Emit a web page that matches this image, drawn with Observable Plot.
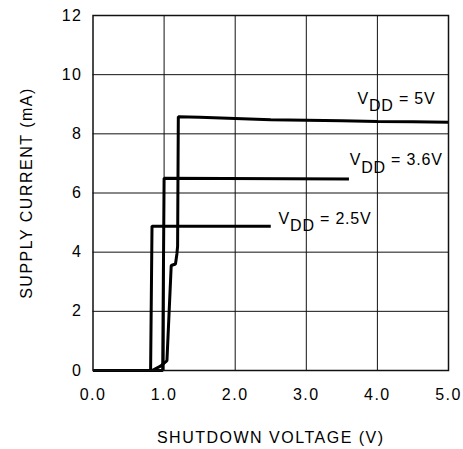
<!DOCTYPE html>
<html>
<head>
<meta charset="utf-8">
<script src="https://cdn.jsdelivr.net/npm/d3@7"></script>
<script src="https://cdn.jsdelivr.net/npm/@observablehq/plot@0.6"></script>
<style>
  html, body { margin: 0; padding: 0; background: #fff; }
</style>
</head>
<body>
<div id="chart"></div>
<script>
// ---- data ----
const xTicks = [0, 1, 2, 3, 4, 5];
const yTicks = [0, 2, 4, 6, 8, 10, 12];

const vdd25X = [0, 0.81, 0.83, 2.5];
const vdd25Y = [0, 0, 4.88, 4.88];

const vdd36X = [0, 0.98, 1.0, 3.6];
const vdd36Y = [0, 0, 6.5, 6.47];

const vdd5X = [0, 0.83, 0.95, 1.03, 1.04, 1.10, 1.16, 1.18, 1.19, 1.2, 1.5, 2.0, 2.5, 3.0, 3.5, 4.0, 4.5, 5.0];
const vdd5Y = [0, 0, 0.15, 0.31, 0.34, 3.55, 3.6, 3.94, 4.2, 8.58, 8.56, 8.52, 8.48, 8.46, 8.44, 8.42, 8.41, 8.39];

const labelMain = ["V", "V", "V"];
const labelSub = ["DD", "DD", "DD"];
const labelRest = [" = 5V", " = 3.6V", " = 2.5V"];
const labelX = [3.72, 3.61, 2.61];
const labelY = [9.01, 6.93, 4.96];

const xTitle = "SHUTDOWN VOLTAGE (V)";
const yTitle = "SUPPLY CURRENT (mA)";

// ---- build ----
const toPts = (xs, ys) => xs.map((x, i) => ({x, y: ys[i]}));
const series = [toPts(vdd25X, vdd25Y), toPts(vdd36X, vdd36Y), toPts(vdd5X, vdd5Y)];
const labels = labelMain.map((m, i) => ({x: labelX[i], y: labelY[i], text: m + labelSub[i] + labelRest[i]}));

const lineStyle = {x: "x", y: "y", stroke: "black", strokeWidth: 3, strokeLinejoin: "miter", strokeLinecap: "butt"};

const chart = Plot.plot({
  width: 463,
  height: 449,
  marginLeft: 92.5,
  marginRight: 15,
  marginTop: 15,
  marginBottom: 79,
  style: {fontFamily: "'Liberation Sans', Arial, sans-serif", fontSize: "16px", letterSpacing: "1.5px", color: "black", background: "white"},
  x: {domain: [0, 5]},
  y: {domain: [0, 12]},
  marks: [
    Plot.gridX([1, 2, 3, 4], {stroke: "#111", strokeOpacity: 1, strokeWidth: 1}),
    Plot.gridY([2, 4, 6, 8, 10], {stroke: "#111", strokeOpacity: 1, strokeWidth: 1}),
    Plot.axisX(xTicks, {tickSize: 0, tickPadding: 18, tickFormat: d3.format(".1f"), label: null, fill: "black", fontSize: 16}),
    Plot.axisY(yTicks, {tickSize: 0, tickPadding: 10.5, tickFormat: d3.format("d"), label: null, fill: "black", fontSize: 16}),
    ...series.map(s => Plot.line(s, lineStyle)),
    Plot.frame({stroke: "#111", strokeWidth: 1.5}),
    Plot.text(labels, {x: "x", y: "y", text: "text", textAnchor: "start", lineAnchor: "bottom", fill: "black", fontSize: 16}),
    Plot.text([xTitle], {frameAnchor: "bottom", dy: 72, textAnchor: "middle", lineAnchor: "bottom", fill: "black", fontSize: 16}),
    Plot.text([yTitle], {frameAnchor: "left", dx: -61.5, rotate: -90, textAnchor: "middle", lineAnchor: "bottom", fill: "black", fontSize: 16})
  ]
});

// subscripts for the series labels
d3.select(chart).selectAll("text").each(function() {
  const i = labels.findIndex(l => l.text === this.textContent);
  if (i < 0) return;
  const t = d3.select(this);
  t.text(null).style("white-space", "pre").style("letter-spacing", "0.8px");
  t.append("tspan").text(labelMain[i]);
  t.append("tspan").attr("dy", "0.45em").text(labelSub[i]);
  t.append("tspan").attr("dy", "-0.45em").text(labelRest[i]);
});

document.getElementById("chart").appendChild(chart);
</script>
</body>
</html>
